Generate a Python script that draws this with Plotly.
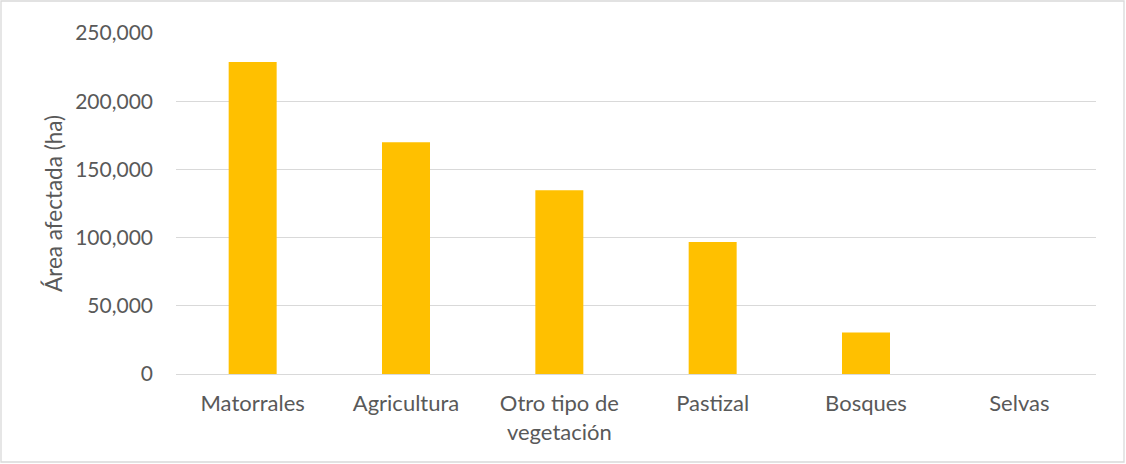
import plotly.graph_objects as go

categories = ["Matorrales", "Agricultura", "Otro tipo de<br>vegetación", "Pastizal", "Bosques", "Selvas"]
area_ha = [228700, 169900, 134700, 96800, 30500, 0]
y_ticks = [0, 50000, 100000, 150000, 200000, 250000]
y_tick_labels = ["0", "50,000", "100,000", "150,000", "200,000", "250,000"]

W, H = 1126, 464
ml, mr, mt, mb = 176, 30, 33, 90
pw, ph = W - ml - mr, H - mt - mb

fig = go.Figure(go.Bar(
    x=categories, y=area_ha,
    marker=dict(color="#FFC000", line=dict(width=0)),
    width=0.313,
    hoverinfo="x+y",
))

font = "Lato, 'Open Sans', sans-serif"
fig.update_layout(
    width=W, height=H,
    margin=dict(l=ml, r=mr, t=mt, b=mb),
    paper_bgcolor="white", plot_bgcolor="white",
    font=dict(family=font, color="#595959", size=20),
    showlegend=False,
    xaxis=dict(showgrid=False, showline=False, zeroline=False, ticks="",
               ticklabelstandoff=14,
               tickfont=dict(size=22, color="#595959")),
    yaxis=dict(range=[0, 250000], tickvals=y_ticks, ticktext=y_tick_labels,
               showgrid=True, gridcolor="#D9D9D9", gridwidth=1.3,
               zeroline=True, zerolinecolor="#D9D9D9", zerolinewidth=1.3,
               showline=False, ticks="", ticklabelstandoff=22,
               tickfont=dict(size=21, color="#595959"),
               title=dict(text="Área afectada (ha)", font=dict(size=22.5, color="#595959"), standoff=6)),
    shapes=[dict(type="rect", xref="paper", yref="paper",
                 x0=(1 - ml) / pw, x1=(W - 2 - ml) / pw,
                 y0=-(H - 2 - mt - ph) / ph, y1=(ph + mt - 1) / ph,
                 line=dict(color="#D9D9D9", width=1.3), fillcolor="rgba(0,0,0,0)", layer="below")],
)

fig.write_html("out.html")
